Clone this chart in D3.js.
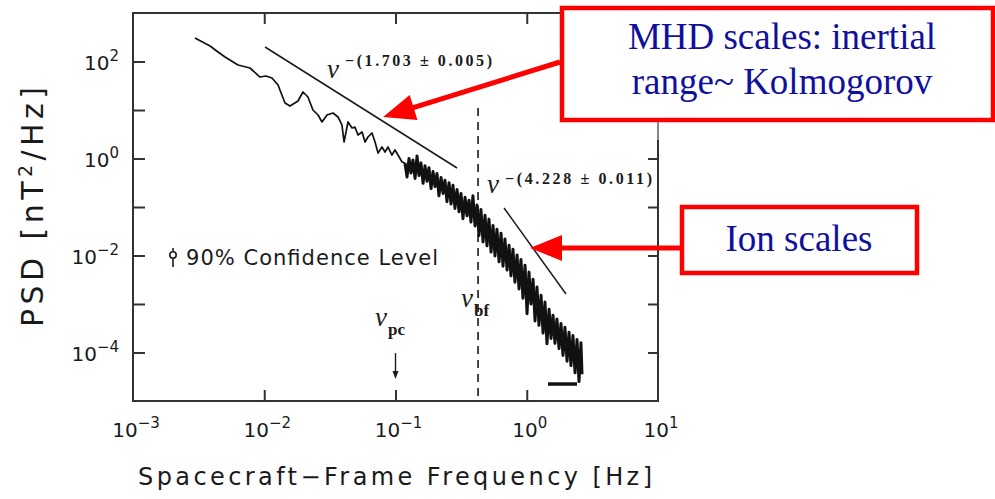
<!DOCTYPE html>
<html><head><meta charset="utf-8">
<script src="https://cdn.jsdelivr.net/npm/d3@7"></script>
<style>body{margin:0;background:#fff}</style>
</head><body>
<svg id="c" width="995" height="499"></svg>
<script>
// ---------- data (log10 values) ----------
const xTickExps = [-3, -2, -1, 0, 1];
const yTickExps = [-4, -2, 0, 2];
const yAllExps = [-4, -3, -2, -1, 0, 1, 2];
const xInnerExps = [-2, -1, 0];

// smooth low-frequency part of the spectrum
const logFreqLow = [
 -2.528,-2.413,-2.352,-2.299,-2.200,-2.109,-2.032,-1.987,-1.941,-1.895,
 -1.842,-1.804,-1.743,-1.705,-1.667,-1.629,-1.590,-1.560,-1.522,-1.476,
 -1.438,-1.408,-1.392,-1.362,-1.331,-1.309,-1.286,-1.255,-1.232,-1.210,
 -1.179,-1.156,-1.133,-1.103,-1.080,-1.057,-1.027,-1.004,-0.981,-0.950,
 -0.928
];
const logPsdLow = [
  2.485, 2.320, 2.196, 2.093, 1.928, 1.866, 1.680, 1.701, 1.660, 1.515,
  1.144, 1.082, 1.186, 1.371, 1.268, 1.000, 0.897, 0.753, 0.897, 0.938,
  0.856, 0.691, 0.340, 0.753, 0.629, 0.649, 0.485, 0.546, 0.340, 0.443,
  0.526, 0.340, 0.113, 0.237, 0.134, 0.237, 0.072, 0.175, 0.072,-0.072,
 -0.093
];
// noisy high-frequency part (alternating lower / upper excursions)
const logFreqHigh = [
 -0.928,
 -0.912,-0.897,-0.882,-0.867,-0.851,-0.836,-0.821,-0.806,-0.790,-0.775,
 -0.760,-0.745,-0.729,-0.714,-0.699,-0.684,-0.669,-0.653,-0.638,-0.623,
 -0.608,-0.592,-0.577,-0.562,-0.547,-0.531,-0.516,-0.501,-0.486,-0.470,
 -0.455,-0.440,-0.425,-0.410,-0.394,-0.379,-0.364,-0.349,-0.333,-0.318,
 -0.303,-0.288,-0.272,-0.257,-0.242,-0.227,-0.211,-0.196,-0.181,-0.166,
 -0.150,-0.135,-0.120,-0.105,-0.090,-0.074,-0.059,-0.044,-0.029,-0.013,
  0.002, 0.017, 0.032, 0.048, 0.063, 0.078, 0.093, 0.109, 0.124, 0.139,
  0.154, 0.170, 0.185, 0.200, 0.215, 0.230, 0.246, 0.261, 0.276, 0.291,
  0.307, 0.322, 0.337, 0.352, 0.368, 0.383, 0.398, 0.413, 0.421
];
const logPsdHigh = [
 -0.093,
 -0.38, 0.00,-0.30,-0.03,-0.41, 0.05,-0.35,-0.09,-0.51,-0.15,
 -0.47,-0.19,-0.62,-0.27,-0.58,-0.31,-0.77,-0.39,-0.72,-0.45,
 -0.89,-0.50,-0.94,-0.55,-1.03,-0.64,-1.10,-0.72,-1.24,-0.80,
 -1.18,-0.86,-1.31,-0.77,-1.39,-0.96,-1.59,-1.05,-1.72,-1.17,
 -1.80,-1.25,-1.93,-1.38,-2.01,-1.46,-2.13,-1.54,-2.22,-1.66,
 -2.30,-1.79,-2.42,-1.87,-2.55,-1.99,-2.69,-2.08,-2.88,-2.20,
 -3.20,-2.34,-3.00,-2.49,-3.35,-2.65,-3.44,-2.82,-3.60,-2.96,
 -3.82,-3.11,-3.71,-3.23,-3.81,-3.31,-3.92,-3.40,-4.06,-3.48,
 -4.18,-3.58,-4.27,-3.65,-4.42,-3.73,-4.60,-3.80,-4.45
];

const fitMhdLogFreq = [-1.994, -0.531];
const fitMhdLogPsd  = [ 2.299, -0.196];
const fitIonLogFreq = [-0.173,  0.299];
const fitIonLogPsd  = [-1.021, -2.794];
const breakLogFreq = -0.371;     // nu_bf
const breakTopLogPsd = 1.04;
const pcLogFreq = -1.0;          // nu_pc
const floorLogFreq = [0.162, 0.383];
const floorLogPsd  = [-4.65, -4.65];
const mhdArrowTarget = [-1.095, 0.856];
const ionArrowTarget = [0.025, -1.845];

// ---------- setup ----------
const svg = d3.select('#c');
const x = d3.scaleLog().domain([1e-3, 1e1]).range([133, 658]);
const y = d3.scaleLog().domain([1e-5, 1e3]).range([401, 13]);
const X = e => x(Math.pow(10, e));
const Y = e => y(Math.pow(10, e));
const ink = '#1a1a1a';
const sans = "'DejaVu Sans', Arial, sans-serif";
const serif = "'Liberation Serif', 'Times New Roman', serif";

// frame
svg.append('rect').attr('x', 133).attr('y', 13).attr('width', 525).attr('height', 388)
  .attr('fill', 'none').attr('stroke', '#333').attr('stroke-width', 2);

// axes using d3 axis generators (ticks inward)
const yVals = yAllExps.map(e => Math.pow(10, e));
const xVals = xInnerExps.map(e => Math.pow(10, e));
const axStyle = g => { g.select('.domain').remove();
  g.selectAll('line').attr('stroke', '#333').attr('stroke-width', 2); g.selectAll('text').remove(); };
svg.append('g').attr('transform', 'translate(133,0)')
  .call(d3.axisRight(y).tickValues(yVals).tickSize(12)).call(axStyle);
svg.append('g').attr('transform', 'translate(658,0)')
  .call(d3.axisLeft(y).tickValues(yVals).tickSize(10)).call(axStyle);
svg.append('g').attr('transform', 'translate(0,13)')
  .call(d3.axisBottom(x).tickValues(xVals).tickSize(11)).call(axStyle);
svg.append('g').attr('transform', 'translate(0,401)')
  .call(d3.axisTop(x).tickValues(xVals).tickSize(11)).call(axStyle);

// tick labels
function powLabel(t, e) {
  t.append('tspan').text('10');
  t.append('tspan').attr('dy', -9).attr('font-size', 15).text(e < 0 ? '\u2212' + (-e) : String(e));
}
yTickExps.forEach(e => {
  const t = svg.append('text').attr('x', 119).attr('y', Y(e) + 8)
    .attr('text-anchor', 'end').attr('font-family', sans).attr('font-size', 20).attr('fill', ink);
  powLabel(t, e);
});
xTickExps.forEach(e => {
  const t = svg.append('text').attr('x', X(e) + 3).attr('y', 437)
    .attr('text-anchor', 'middle').attr('font-family', sans).attr('font-size', 20).attr('fill', ink);
  powLabel(t, e);
});

// axis titles
const yt = svg.append('text').attr('transform', 'translate(43,207) rotate(-90)')
  .attr('text-anchor', 'middle').attr('font-family', sans).attr('font-size', 30).attr('fill', ink)
  .attr('textLength', 240).attr('lengthAdjust', 'spacing');
yt.append('tspan').text('PSD [nT');
yt.append('tspan').attr('dy', -11).attr('font-size', 19).text('2');
yt.append('tspan').attr('dy', 11).text('/Hz]');
svg.append('text').attr('x', 395).attr('y', 485).attr('text-anchor', 'middle')
  .attr('font-family', sans).attr('font-size', 24).attr('fill', ink)
  .attr('textLength', 514).attr('lengthAdjust', 'spacing')
  .text('Spacecraft\u2212Frame Frequency [Hz]');

// confidence level legend
svg.append('line').attr('x1', 173).attr('x2', 173).attr('y1', 248).attr('y2', 267)
  .attr('stroke', ink).attr('stroke-width', 1.6);
svg.append('circle').attr('cx', 173).attr('cy', 255).attr('r', 3.2)
  .attr('fill', '#fff').attr('stroke', ink).attr('stroke-width', 1.6);
svg.append('text').attr('x', 186).attr('y', 265).attr('font-family', sans).attr('font-size', 21)
  .attr('fill', ink).attr('textLength', 252).attr('lengthAdjust', 'spacing')
  .text('90% Confidence Level');

// break frequency dashed line
svg.append('line').attr('x1', X(breakLogFreq)).attr('x2', X(breakLogFreq))
  .attr('y1', Y(breakTopLogPsd)).attr('y2', 401)
  .attr('stroke', ink).attr('stroke-width', 1.6).attr('stroke-dasharray', '8,6');

// spectrum
const line = d3.line().x(d => X(d[0])).y(d => Y(d[1]));
svg.append('path').attr('d', line(logFreqLow.map((f, i) => [f, logPsdLow[i]]))).attr('fill', 'none')
  .attr('stroke', '#111').attr('stroke-width', 1.7).attr('stroke-linejoin', 'round');
svg.append('path').attr('d', line(logFreqHigh.map((f, i) => [f, logPsdHigh[i]]))).attr('fill', 'none')
  .attr('stroke', '#111').attr('stroke-width', 3).attr('stroke-linejoin', 'round');
svg.append('path').attr('d', line(floorLogFreq.map((f, i) => [f, floorLogPsd[i]])))
  .attr('stroke', '#111').attr('stroke-width', 3.5).attr('fill', 'none');

// fit lines
svg.append('path').attr('d', line(fitMhdLogFreq.map((f, i) => [f, fitMhdLogPsd[i]])))
  .attr('stroke', ink).attr('stroke-width', 1.5).attr('fill', 'none');
svg.append('path').attr('d', line(fitIonLogFreq.map((f, i) => [f, fitIonLogPsd[i]])))
  .attr('stroke', ink).attr('stroke-width', 1.5).attr('fill', 'none');

// power-law labels
function nuLabel(xn, yn, exp, xe, ye) {
  svg.append('text').attr('x', xn).attr('y', yn).attr('font-family', serif).attr('font-style', 'italic')
    .attr('font-size', 27).attr('fill', ink).text('\u03BD');
  svg.append('text').attr('x', xe).attr('y', ye).attr('font-family', serif).attr('font-weight', 'bold')
    .attr('font-size', 16).attr('fill', ink).attr('textLength', 147).attr('lengthAdjust', 'spacing').text(exp);
}
nuLabel(327, 78, '\u2212(1.703 \u00B1 0.005)', 345, 66);
nuLabel(487, 193, '\u2212(4.228 \u00B1 0.011)', 505, 184);

// nu_pc, nu_bf
function nuSub(xn, yn, sub) {
  const t = svg.append('text').attr('x', xn).attr('y', yn).attr('font-family', serif).attr('fill', ink);
  t.append('tspan').attr('font-style', 'italic').attr('font-size', 27).text('\u03BD');
  t.append('tspan').attr('dx', 1).attr('dy', 9).attr('font-weight', 'bold').attr('font-size', 17).text(sub);
}
nuSub(375, 326, 'pc');
nuSub(461, 307, 'bf');
svg.append('line').attr('x1', X(pcLogFreq)).attr('x2', X(pcLogFreq)).attr('y1', 353).attr('y2', 374)
  .attr('stroke', ink).attr('stroke-width', 1.4);
svg.append('path').attr('d', d3.line()([[X(pcLogFreq) - 3, 371], [X(pcLogFreq) + 3, 371], [X(pcLogFreq), 379]]))
  .attr('fill', ink);

// ---------- red annotation boxes ----------
const red = '#ff0000', blue = '#10109c';
function arrow(x1, y1, x2, y2) {
  const a = Math.atan2(y2 - y1, x2 - x1), L = 32, W = 13;
  const bx = x2 - L * Math.cos(a), by = y2 - L * Math.sin(a);
  svg.append('line').attr('x1', x1).attr('y1', y1).attr('x2', bx + 2 * Math.cos(a)).attr('y2', by + 2 * Math.sin(a))
    .attr('stroke', red).attr('stroke-width', 5);
  svg.append('path').attr('d', d3.line()([[x2, y2],
    [bx + W * Math.sin(a), by - W * Math.cos(a)], [bx - W * Math.sin(a), by + W * Math.cos(a)]]))
    .attr('fill', red);
}
svg.append('rect').attr('x', 562).attr('y', 8).attr('width', 431).attr('height', 112)
  .attr('fill', '#fff').attr('stroke', red).attr('stroke-width', 4.5);
svg.append('line').attr('x1', 658).attr('x2', 658).attr('y1', 122).attr('y2', 140).attr('stroke', '#888').attr('stroke-width', 2);
svg.append('text').attr('x', 782).attr('y', 49).attr('text-anchor', 'middle').attr('font-family', serif)
  .attr('font-size', 37).attr('fill', blue).text('MHD scales: inertial');
svg.append('text').attr('x', 782).attr('y', 94).attr('text-anchor', 'middle').attr('font-family', serif)
  .attr('font-size', 37).attr('fill', blue).text('range~ Kolmogorov');
arrow(560, 62, X(mhdArrowTarget[0]), Y(mhdArrowTarget[1]));

svg.append('rect').attr('x', 682).attr('y', 207).attr('width', 235).attr('height', 66)
  .attr('fill', '#fff').attr('stroke', red).attr('stroke-width', 4.5);
svg.append('text').attr('x', 799).attr('y', 251).attr('text-anchor', 'middle').attr('font-family', serif)
  .attr('font-size', 37).attr('fill', blue).text('Ion scales');
arrow(680, 248, X(ionArrowTarget[0]), Y(ionArrowTarget[1]));
</script>
</body></html>
